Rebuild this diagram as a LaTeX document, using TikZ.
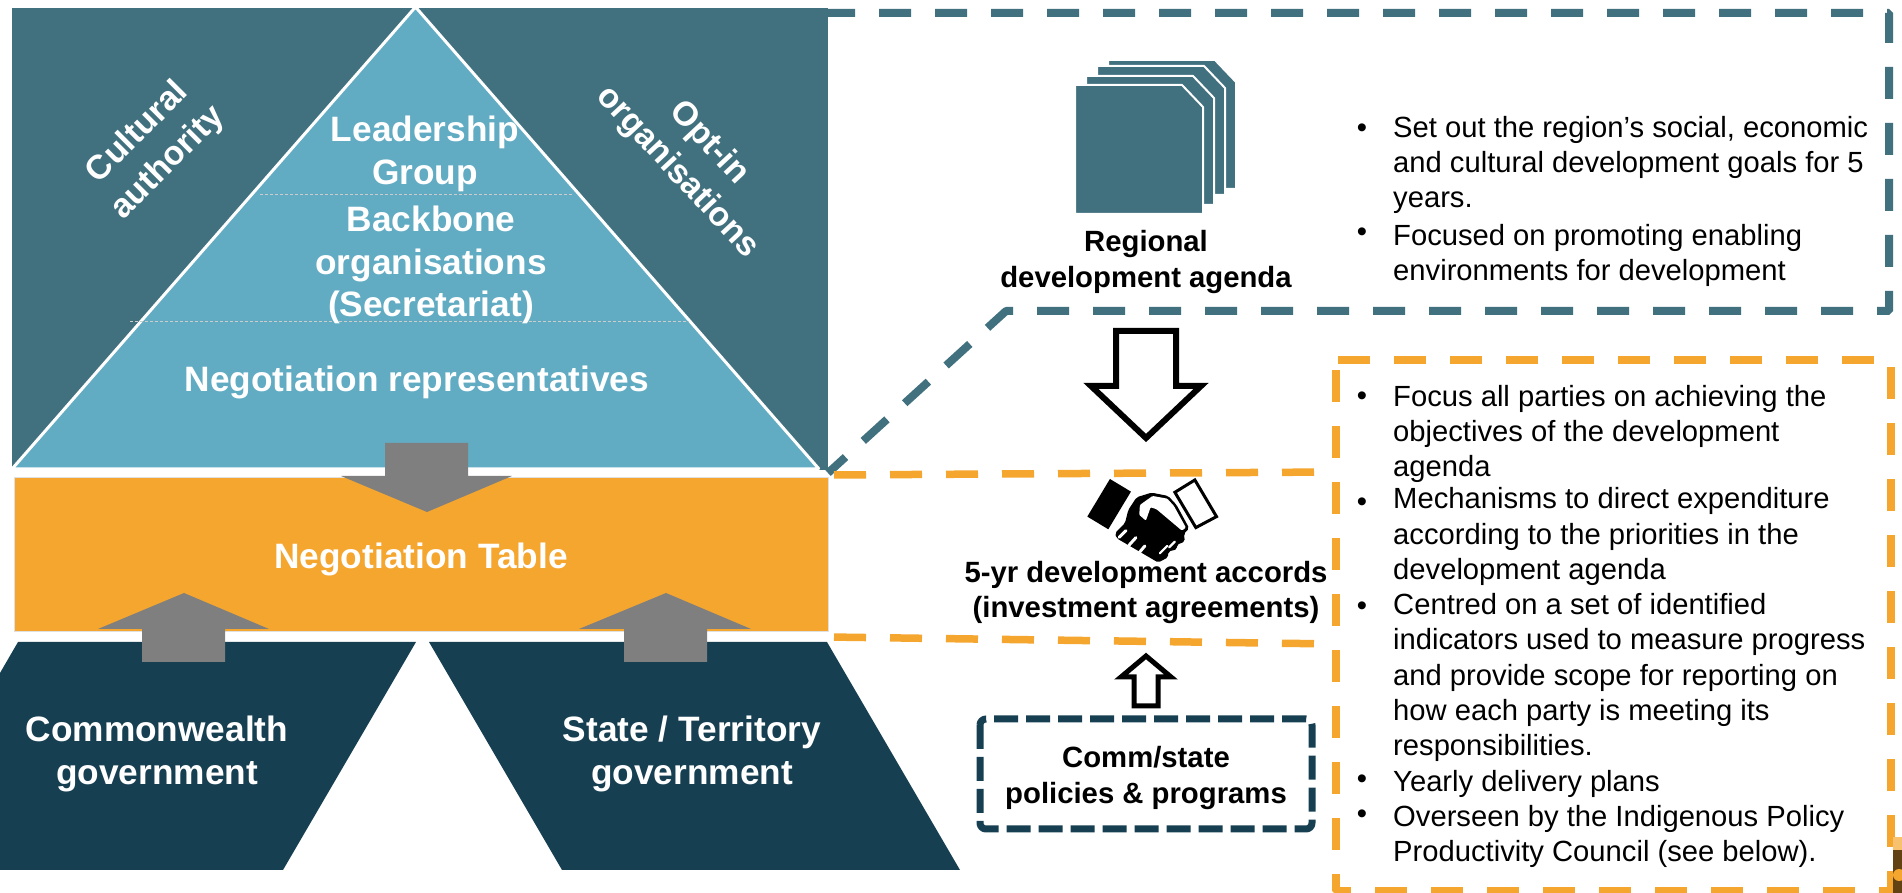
\documentclass[tikz,border=0pt]{standalone}
\usepackage{fontspec}
\setmainfont{Liberation Sans}
\usetikzlibrary{arrows.meta}
\usetikzlibrary{shapes}
\definecolor{tealdark}{HTML}{41707F}
\definecolor{teallight}{HTML}{61ABC3}
\definecolor{tableorange}{HTML}{F4A62F}
\definecolor{govnavy}{HTML}{173F52}
\definecolor{flowgray}{HTML}{7F7F7F}
\tikzset{
  bighead/.style={inner sep=0pt,text=white,align=center,font=\fontsize{35.4}{43}\selectfont\bfseries},
  slanthead/.style={inner sep=0pt,text=white,align=center,font=\fontsize{34}{43}\selectfont\bfseries},
  sidehead/.style={inner sep=0pt,align=center,font=\fontsize{29.4}{35.5}\selectfont\bfseries},
  listline/.style={inner sep=0pt,anchor=west,align=left,font=\fontsize{29.3}{35.2}\selectfont},
  listdot/.style={inner sep=0pt,font=\fontsize{29.3}{35.2}\selectfont},
  agendaline/.style={draw=tealdark,line width=8bp,dash pattern=on 32bp off 24bp},
  accordline/.style={draw=tableorange,line width=7.5bp,dash pattern=on 32bp off 24bp},
  flowarrow/.style={fill=flowgray},
  hollowarrow/.style={draw=black,fill=white,line join=miter},
  docsheet/.style={fill=tealdark,draw=white,line width=2bp},
}
\begin{document}
\begin{tikzpicture}[line join=bevel]
\useasboundingbox (0bp,0bp) rectangle (1902bp,893bp);
%% pyramid
\fill [tealdark] (12bp,885bp) rectangle (828bp,423bp);
\draw [fill=teallight,draw=white,line width=3bp] (415.5bp,886bp) -- (12bp,424bp) -- (819bp,424bp) -- cycle;
\draw [white!80!black,densely dashed,line width=1bp] (260bp,698bp) -- (572bp,698bp);
\draw [white!80!black,densely dashed,line width=1bp] (130bp,571bp) -- (689bp,571bp);
\node (node_leader) at (425bp,739bp) [bighead] {Leadership\\Group};
\node (node_backbone) at (431bp,628bp) [bighead] {Backbone\\organisations\\(Secretariat)};
\node (node_reps) at (417bp,511bp) [bighead] {Negotiation representatives};
\node (node_culture) at (153bp,745bp) [slanthead,rotate=45] {Cultural\\authority};
\node (node_optin) at (693bp,735bp) [slanthead,rotate=-47] {Opt-in\\organisations};
%% negotiation table
\fill [tableorange,draw=white!88!black,line width=1bp] (14bp,415bp) rectangle (828bp,261bp);
\node (node_table) at (421bp,334bp) [bighead] {Negotiation Table};
\fill [flowarrow] (385bp,450bp) -- (468bp,450bp) -- (468bp,417bp) -- (512bp,417bp) -- (427bp,381bp) -- (341bp,417bp) -- (385bp,417bp) -- cycle;
%% governments
\fill [govnavy] (18bp,251bp) -- (416bp,251bp) -- (283bp,23bp) -- (0bp,23bp) -- (0bp,220bp) -- cycle;
\fill [govnavy] (429bp,251bp) -- (827bp,251bp) -- (960bp,23bp) -- (562bp,23bp) -- cycle;
\fill [flowarrow] (142bp,231bp) -- (225bp,231bp) -- (225bp,264bp) -- (269bp,264bp) -- (184bp,300bp) -- (98bp,264bp) -- (142bp,264bp) -- cycle;
\fill [flowarrow] (624bp,231bp) -- (707bp,231bp) -- (707bp,264bp) -- (751bp,264bp) -- (666bp,300bp) -- (579bp,264bp) -- (624bp,264bp) -- cycle;
\node (node_comm) at (157bp,139bp) [bighead] {Commonwealth\\government};
\node (node_state) at (692bp,139bp) [bighead] {State / Territory\\government};
%% agenda panel
\draw [agendaline,dash phase=5bp] (828bp,880bp) -- (1889bp,880bp) -- (1889bp,582bp) -- (1006bp,582bp) -- (828bp,420bp);
\draw [docsheet] (1108bp,833bp) -- (1215bp,833bp) -- (1236bp,811bp) -- (1236bp,704bp) -- (1108bp,704bp) -- cycle;
\draw [docsheet] (1097bp,827bp) -- (1204bp,827bp) -- (1225bp,805bp) -- (1225bp,698bp) -- (1097bp,698bp) -- cycle;
\draw [docsheet] (1086bp,817bp) -- (1193bp,817bp) -- (1214bp,795bp) -- (1214bp,688bp) -- (1086bp,688bp) -- cycle;
\draw [docsheet] (1075bp,808bp) -- (1182bp,808bp) -- (1203bp,786bp) -- (1203bp,679bp) -- (1075bp,679bp) -- cycle;
\node (node_agenda) at (1146bp,631bp) [sidehead] {Regional\\development agenda};
\node (node_dot_a) at (1362bp,762bp) [listdot] {•};
\node (node_goals) at (1393bp,728bp) [listline] {Set out the region’s social, economic\\and cultural development goals for 5\\years.};
\node (node_dot_b) at (1362bp,658bp) [listdot] {•};
\node (node_enable) at (1393bp,638bp) [listline] {Focused on promoting enabling\\environments for development};
\draw [hollowarrow,line width=6bp] (1116bp,562bp) -- (1176bp,562bp) -- (1176bp,507bp) -- (1201bp,507bp) -- (1146bp,455bp) -- (1091bp,507bp) -- (1116bp,507bp) -- cycle;
%% accords panel
\draw [accordline,dash phase=50bp] (828bp,418bp) -- (1336bp,421bp);
\draw [accordline,dash phase=50bp] (828bp,256bp) -- (1336bp,249bp);
\draw [accordline,dash phase=54bp] (1336bp,533bp) -- (1891bp,533bp) -- (1891bp,2bp) -- (1336bp,2bp) -- cycle;
\begin{scope}[shift={(1060bp,433bp)},x=0.333bp,y=-0.333bp]
\fill [black] (150,57) -- (213,95) -- (145,208) -- (82,170) -- cycle;
\draw [black,fill=white,line width=3bp,line join=miter] (405,60) -- (470,170) -- (408,203) -- (345,97) -- cycle;
\fill [black,rounded corners=2bp] (230,112) -- (275,98) -- (325,108) -- (350,135) -- (388,205) -- (372,222) -- (375,245) -- (350,255) -- (352,268) -- (325,275) -- (325,292) -- (295,308) -- (170,235) -- (165,220) -- (195,190) -- (205,150) -- cycle;
\fill [white,rounded corners=1bp] (240,135) -- (278,108) -- (322,116) -- (342,138) -- (378,203) -- (366,212) -- (290,148) -- (272,142) -- (258,182) -- (238,165) -- cycle;
\draw [white,line width=3bp,line cap=round] (178,232) -- (198,212);
\draw [white,line width=3bp,line cap=round] (208,255) -- (228,233);
\draw [white,line width=3bp,line cap=round] (238,278) -- (255,258);
\draw [white,line width=2.2bp,line cap=round] (300,280) -- (322,258);
\draw [white,line width=2.2bp,line cap=round] (328,262) -- (345,245);
\end{scope}
\node (node_accords) at (1146bp,300.5bp) [sidehead] {5-yr development accords\\(investment agreements)};
\draw [hollowarrow,line width=5bp] (1134bp,187bp) -- (1158bp,187bp) -- (1158bp,216bp) -- (1171bp,216bp) -- (1146bp,237bp) -- (1121bp,216bp) -- (1134bp,216bp) -- cycle;
\draw [govnavy,line width=7bp,rounded corners=6bp,dash pattern=on 24bp off 8bp] (980bp,174bp) rectangle (1312bp,64bp);
\node (node_policies) at (1146bp,115bp) [sidehead] {Comm/state\\policies \& programs};
\node (node_dot_c) at (1362bp,494bp) [listdot] {•};
\node (node_focus) at (1393bp,459bp) [listline] {Focus all parties on achieving the\\objectives of the development\\agenda};
\node (node_dot_d) at (1362bp,388bp) [listdot] {•};
\node (node_direct) at (1393bp,356.5bp) [listline] {Mechanisms to direct expenditure\\according to the priorities in the\\development agenda};
\node (node_dot_e) at (1362bp,284bp) [listdot] {•};
\node (node_indicators) at (1393bp,215.5bp) [listline] {Centred on a set of identified\\indicators used to measure progress\\and provide scope for reporting on\\how each party is meeting its\\responsibilities.};
\node (node_dot_f) at (1362bp,111bp) [listdot] {•};
\node (node_yearly) at (1393bp,109.5bp) [listline] {Yearly delivery plans};
\node (node_dot_g) at (1362bp,76bp) [listdot] {•};
\node (node_council) at (1393bp,56.5bp) [listline] {Overseen by the Indigenous Policy\\Productivity Council (see below).};
%% corner scrap
\fill [tableorange!70] (1893bp,56bp) rectangle (1902bp,43bp);
\fill [black!60!tableorange] (1893bp,43bp) rectangle (1902bp,0bp);
\fill [tableorange] (1899bp,18bp) circle (6bp);
%
\end{tikzpicture}
\end{document}
